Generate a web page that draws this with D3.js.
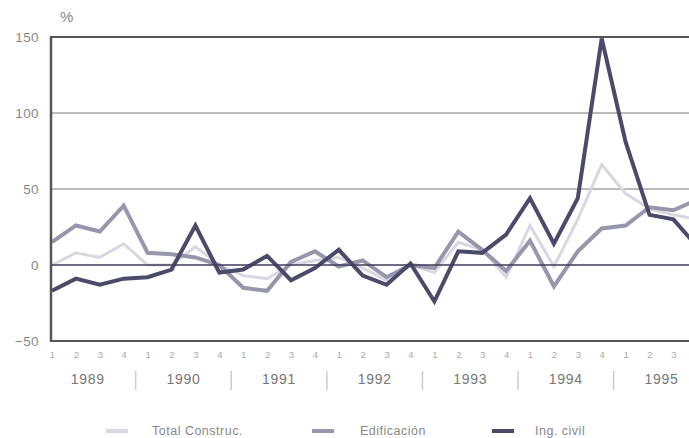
<!DOCTYPE html>
<html>
<head>
<meta charset="utf-8">
<script src="https://cdn.jsdelivr.net/npm/d3@7"></script>
<style>
  html, body { margin: 0; padding: 0; background: #fff; }
  svg { display: block; font-family: "Liberation Sans", Arial, sans-serif; }
</style>
</head>
<body>
<svg id="chart" width="689" height="438"></svg>
<script>
// ---- DATA ----
const years = ["1989", "1990", "1991", "1992", "1993", "1994", "1995"];
const quarterLabels = ["1", "2", "3", "4"];
const yTicks = [150, 100, 50, 0, -50];

// 1989Q1 .. 1995Q4
const totalConstruc = [0, 8, 5, 14, 0, 0, 12, 0, -7, -9, 0, 3, 5, -2, -10, 0, -5, 15, 10, -8, 26, -1, 30, 66, 47, 37, 33, 30];
const edificacion   = [15, 26, 22, 39, 8, 7, 5, 0, -15, -17, 2, 9, -1, 3, -8, 0, -2, 22, 10, -4, 16, -14, 9, 24, 26, 38, 36, 43];
const ingCivil      = [-17, -9, -13, -9, -8, -3, 26, -5, -3, 6, -10, -2, 10, -7, -13, 1, -24, 9, 8, 20, 44, 14, 44, 149, 81, 33, 30, 12];

const seriesNames = ["Total Construc.", "Edificación", "Ing. civil"];
const seriesData = [totalConstruc, edificacion, ingCivil];
const seriesColors = ["#d8d8e2", "#9696ad", "#4a4a69"];
const seriesWidths = [3, 4, 4];

// ---- LAYOUT ----
const svg = d3.select("#chart");
const W = 689;
const mLeft = 51, mTop = 37, mBottom = 341;
const step = 23.9;
const x0 = 52;

const keys = [];
years.forEach(yr => quarterLabels.forEach(q => keys.push(yr + "Q" + q)));

const x = d3.scalePoint().domain(keys).range([x0, x0 + step * (keys.length - 1)]);
const y = d3.scaleLinear().domain([-50, 150]).range([mBottom, mTop]);

// gridlines
svg.append("g").selectAll("line")
  .data(yTicks.filter(t => t !== 0))
  .join("line")
  .attr("x1", mLeft).attr("x2", W)
  .attr("y1", d => y(d)).attr("y2", d => y(d))
  .attr("stroke", d => (d === 150 || d === -50) ? "#555" : "#777")
  .attr("stroke-width", d => (d === 150 || d === -50) ? 2 : 1);

// y axis labels
const yAxis = d3.axisLeft(y).tickValues(yTicks).tickSize(0).tickPadding(12);
const gy = svg.append("g").attr("transform", `translate(${mLeft},0)`).call(yAxis);
gy.select(".domain").remove();
gy.selectAll("text").attr("fill", "#888").style("font-size", "13.5px")
  .style("letter-spacing", "0.4px")
  .style("font-family", "Liberation Sans, Arial, sans-serif");

svg.append("text").attr("x", 60).attr("y", 22).attr("fill", "#888")
  .style("font-size", "15px").text("%");

// lines
const line = d3.line().x((d, i) => x(keys[i])).y(d => y(d));
seriesData.forEach((s, k) => {
  svg.append("path").datum(s)
    .attr("fill", "none")
    .attr("stroke", seriesColors[k])
    .attr("stroke-width", seriesWidths[k])
    .attr("stroke-linejoin", "miter")
    .attr("d", line);
});

// zero line
svg.append("line").attr("x1", mLeft).attr("x2", W)
  .attr("y1", y(0)).attr("y2", y(0))
  .attr("stroke", "#3c3c5c").attr("stroke-width", 1.5);

// left axis line
svg.append("line").attr("x1", mLeft).attr("x2", mLeft)
  .attr("y1", y(150) - 1).attr("y2", y(-50) + 1)
  .attr("stroke", "#555").attr("stroke-width", 2.5);

// quarter labels (only those inside the visible area)
const visibleKeys = keys.filter(k => x(k) < W - 6);
const xAxis = d3.axisBottom(x).tickValues(visibleKeys).tickSize(0).tickPadding(10).tickFormat(d => d.slice(-1));
const gx = svg.append("g").attr("transform", `translate(0,${mBottom})`).call(xAxis);
gx.select(".domain").remove();
gx.selectAll("text").attr("fill", "#aaa").style("font-size", "9.5px").style("font-family", "Liberation Sans, Arial, sans-serif");

// year labels
years.forEach((yr, i) => {
  const cx = (x(yr + "Q1") + x(yr + "Q4")) / 2;
  svg.append("text").attr("x", cx).attr("y", 384)
    .attr("text-anchor", "middle").attr("fill", "#777")
    .style("font-size", "14px").style("letter-spacing", "0.7px").text(yr);
  if (i > 0) {
    const sx = (x(years[i - 1] + "Q4") + x(yr + "Q1")) / 2;
    svg.append("line").attr("x1", sx).attr("x2", sx)
      .attr("y1", 371).attr("y2", 390)
      .attr("stroke", "#ccc").attr("stroke-width", 1.5);
  }
});

// legend
const legendX = [106, 312, 492];
const legendTextX = [152, 360, 535];
seriesNames.forEach((n, k) => {
  svg.append("line").attr("x1", legendX[k]).attr("x2", legendX[k] + 22)
    .attr("y1", 431).attr("y2", 431)
    .attr("stroke", seriesColors[k]).attr("stroke-width", 4);
  svg.append("text").attr("x", legendTextX[k]).attr("y", 434.5)
    .attr("fill", "#888").style("font-size", "12.5px").style("letter-spacing", "0.5px").text(n);
});
</script>
</body>
</html>
